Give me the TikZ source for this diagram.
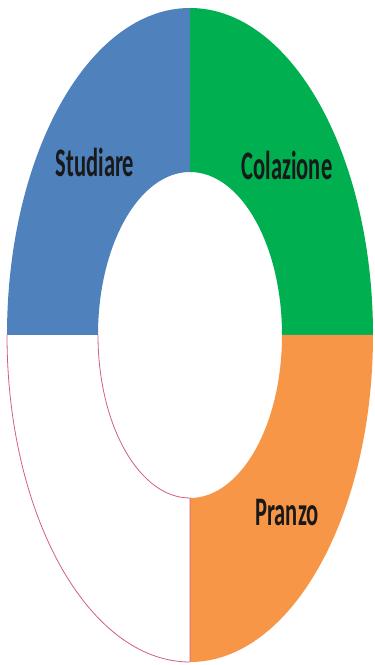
\documentclass[tikz,border=0pt]{standalone}
\usepackage{fontspec}
\setmainfont{Carlito}
\usepackage{tikz}

\definecolor{studblue}{HTML}{4F81BD}
\definecolor{colgreen}{HTML}{00B050}
\definecolor{pranorange}{HTML}{F79646}
\definecolor{ringpink}{HTML}{D0607E}

\begin{document}
\begin{tikzpicture}[x=1pt, y=1pt,
    slice/.style={draw=none},
    label/.style={font=\bfseries\fontsize{22.5}{24}\selectfont, text=black!90, yscale=1.8, inner sep=0pt}]

  \useasboundingbox (0,0) rectangle (375,665);

  % top-left quarter
  \fill[studblue] (7,330) arc[start angle=180, end angle=90, x radius=183, y radius=327]
    -- (190,493) arc[start angle=90, end angle=180, x radius=92, y radius=163] -- cycle;
  % top-right quarter
  \fill[colgreen] (190,657) arc[start angle=90, end angle=0, x radius=183, y radius=327]
    -- (282,330) arc[start angle=0, end angle=90, x radius=92, y radius=163] -- cycle;
  % bottom-right quarter
  \fill[pranorange] (373,330) arc[start angle=0, end angle=-90, x radius=183, y radius=327]
    -- (190,167) arc[start angle=-90, end angle=0, x radius=92, y radius=163] -- cycle;
  % bottom-left quarter (empty)
  \draw[ringpink, line width=0.8pt] (190,3) arc[start angle=-90, end angle=-180, x radius=183, y radius=327];
  \draw[ringpink, line width=0.8pt] (98,330) arc[start angle=180, end angle=270, x radius=92, y radius=163]
    -- (190,3);

  \node[label] (stud) at (95,503) {Studiare};
  \node[label] (col) at (287,500) {Colazione};
  \node[label] (pran) at (287,152) {Pranzo};
\end{tikzpicture}
\end{document}
